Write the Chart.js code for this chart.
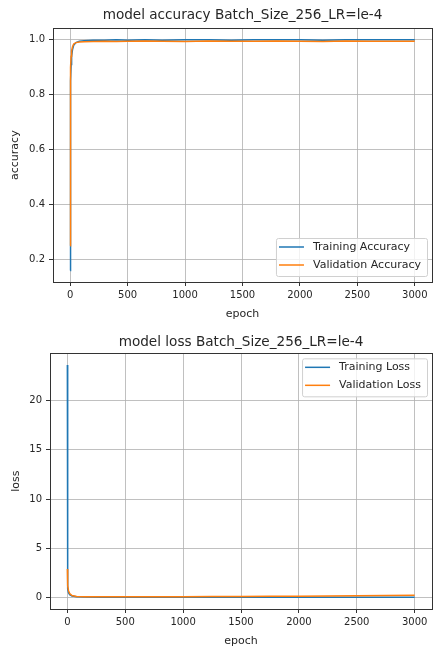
<!DOCTYPE html>
<html>
<head>
<meta charset="utf-8">
<script src="https://cdn.jsdelivr.net/npm/chart.js@4"></script>
<style>
    body { margin: 0; background: #fff; }
    .box { position: relative; width: 434px; }
</style>
</head>
<body>
<div class="box" style="height:322px"><canvas id="accChart"></canvas></div>
<div class="box" style="height:327px"><canvas id="lossChart"></canvas></div>
<script>
const accEpochs = [0, 1, 2, 3, 5, 8, 12, 20, 30, 50, 80, 120, 200, 300, 400, 500, 650, 800, 1000, 1200, 1400, 1600, 1800, 2000, 2200, 2400, 2600, 2800, 3000];
const trainAcc = [0.16, 0.45, 0.62, 0.74, 0.85, 0.91, 0.94, 0.965, 0.98, 0.99, 0.995, 0.997, 0.999, 0.999, 1.0, 0.999, 1.0, 0.999, 1.0, 1.0, 0.999, 1.0, 1.0, 1.0, 0.999, 1.0, 1.0, 1.0, 1.0];
const valAcc = [0.25, 0.55, 0.72, 0.82, 0.9, 0.94, 0.96, 0.975, 0.985, 0.99, 0.992, 0.993, 0.994, 0.995, 0.994, 0.995, 0.996, 0.995, 0.994, 0.996, 0.995, 0.995, 0.996, 0.995, 0.994, 0.996, 0.995, 0.995, 0.995];

const lossEpochs = [0, 1, 2, 3, 5, 10, 20, 40, 80, 150, 300, 500, 750, 1000, 1250, 1500, 1750, 2000, 2250, 2500, 2750, 3000];
const trainLoss = [23.6, 3.5, 1.8, 1.3, 0.9, 0.5, 0.3, 0.15, 0.08, 0.05, 0.04, 0.035, 0.03, 0.03, 0.028, 0.027, 0.025, 0.025, 0.024, 0.023, 0.022, 0.02];
const valLoss = [2.9, 2.3, 2.0, 1.8, 1.2, 0.7, 0.4, 0.2, 0.12, 0.09, 0.085, 0.08, 0.085, 0.09, 0.1, 0.11, 0.125, 0.14, 0.16, 0.19, 0.21, 0.24];

const xTicks = [0, 500, 1000, 1500, 2000, 2500, 3000];
const accTicks = [0.2, 0.4, 0.6, 0.8, 1.0];
const lossTicks = [0, 5, 10, 15, 20];

const BLUE = '#1f77b4';
const ORANGE = '#ff7f0e';
const FONT = 'DejaVu Sans';
const TEXT = '#262626';

function toPoints(xs, ys) {
    return xs.map((x, i) => ({ x: x, y: ys[i] }));
}

// matplotlib-ish frame (all four spines) and an inset legend
const framePlugin = {
    id: 'frame',
    afterDraw(chart, args, opts) {
        const ctx = chart.ctx;
        const a = chart.chartArea;
        ctx.save();
        ctx.strokeStyle = '#333';
        ctx.lineWidth = 1;
        ctx.strokeRect(Math.round(a.left) + 0.5, Math.round(a.top) + 0.5,
            Math.round(a.right - a.left), Math.round(a.bottom - a.top));

        // legend
        ctx.font = '11px "' + FONT + '"';
        const labels = chart.data.datasets.map(d => d.label);
        const textW = Math.max(...labels.map(l => ctx.measureText(l).width));
        const w = 3 + 25 + 9 + textW + 6;
        const rowH = 18;
        const h = 38;
        const right = a.right - 5;
        const left = right - w;
        const top = opts.where === 'lower' ? a.bottom - 6 - h : a.top + 5;
        ctx.fillStyle = 'rgba(255,255,255,0.8)';
        ctx.strokeStyle = '#d0d0d0';
        ctx.beginPath();
        ctx.roundRect(left + 0.5, top + 0.5, w, h, 2);
        ctx.fill();
        ctx.stroke();
        chart.data.datasets.forEach((d, i) => {
            const y = top + 9 + rowH * i;
            ctx.strokeStyle = d.borderColor;
            ctx.lineWidth = 1.5;
            ctx.beginPath();
            ctx.moveTo(left + 3, y);
            ctx.lineTo(left + 28, y);
            ctx.stroke();
            ctx.fillStyle = TEXT;
            ctx.textBaseline = 'middle';
            ctx.textAlign = 'left';
            ctx.fillText(d.label, left + 37, y);
        });
        ctx.restore();
    }
};

function makeChart(id, cfg) {
    return new Chart(document.getElementById(id), {
        type: 'line',
        data: {
            datasets: [
                { label: cfg.labels[0], data: toPoints(cfg.epochs, cfg.train), borderColor: BLUE, borderWidth: 1.5, pointRadius: 0, tension: 0, order: 1 },
                { label: cfg.labels[1], data: toPoints(cfg.epochs, cfg.val), borderColor: ORANGE, borderWidth: 1.5, pointRadius: 0, tension: 0, order: 0 },
            ]
        },
        options: {
            responsive: true,
            maintainAspectRatio: false,
            animation: false,
            layout: { padding: { left: 0, right: 2, top: 0, bottom: 0 } },
            plugins: {
                legend: { display: false },
                tooltip: { enabled: false },
                title: {
                    display: true,
                    fullSize: false,
                    text: cfg.title,
                    color: TEXT,
                    font: { family: FONT, size: 13.6, weight: 'normal', lineHeight: 1.2 },
                    padding: cfg.titlePad,
                },
                frame: { where: cfg.legendAt },
            },
            scales: {
                x: {
                    type: 'linear',
                    min: -150,
                    max: 3150,
                    afterBuildTicks: (scale) => { scale.ticks = xTicks.map(v => ({ value: v })); },
                    afterFit: (scale) => { scale.height = 40; },
                    border: { display: false },
                    grid: { color: '#b0b0b0', lineWidth: 0.8, tickColor: '#333', tickLength: 4, tickWidth: 1 },
                    ticks: { color: TEXT, font: { family: FONT, size: 10 }, padding: 3, maxRotation: 0, callback: (v) => String(v) },
                    title: { display: true, text: 'epoch', color: TEXT, font: { family: FONT, size: 11 }, padding: { top: 0, bottom: 1 } },
                },
                y: {
                    type: 'linear',
                    min: cfg.yMin,
                    max: cfg.yMax,
                    afterBuildTicks: (scale) => { scale.ticks = cfg.yTicks.map(v => ({ value: v })); },
                    afterFit: (scale) => { scale.width = cfg.yWidth; },
                    border: { display: false },
                    grid: { color: '#b0b0b0', lineWidth: 0.8, tickColor: '#333', tickLength: 4, tickWidth: 1 },
                    ticks: { color: TEXT, font: { family: FONT, size: 10 }, padding: 4, callback: cfg.fmt },
                    title: { display: true, text: cfg.yLabel, color: TEXT, font: { family: FONT, size: 11 }, padding: { top: cfg.yTitlePad, bottom: 0 } },
                }
            }
        },
        plugins: [framePlugin]
    });
}

makeChart('accChart', {
    title: 'model accuracy Batch_Size_256_LR=le-4',
    titlePad: { top: 7, bottom: 5 },
    labels: ['Training Accuracy', 'Validation Accuracy'],
    epochs: accEpochs, train: trainAcc, val: valAcc,
    yMin: 0.118, yMax: 1.042, yTicks: accTicks, yWidth: 53, yLabel: 'accuracy', yTitlePad: 9,
    fmt: (v) => v.toFixed(1),
    legendAt: 'lower',
});

makeChart('lossChart', {
    title: 'model loss Batch_Size_256_LR=le-4',
    titlePad: { top: 12, bottom: 3 },
    labels: ['Training Loss', 'Validation Loss'],
    epochs: lossEpochs, train: trainLoss, val: valLoss,
    yMin: -1.16, yMax: 24.78, yTicks: lossTicks, yWidth: 50, yLabel: 'loss', yTitlePad: 10,
    fmt: (v) => String(v),
    legendAt: 'upper',
});
</script>
</body>
</html>
